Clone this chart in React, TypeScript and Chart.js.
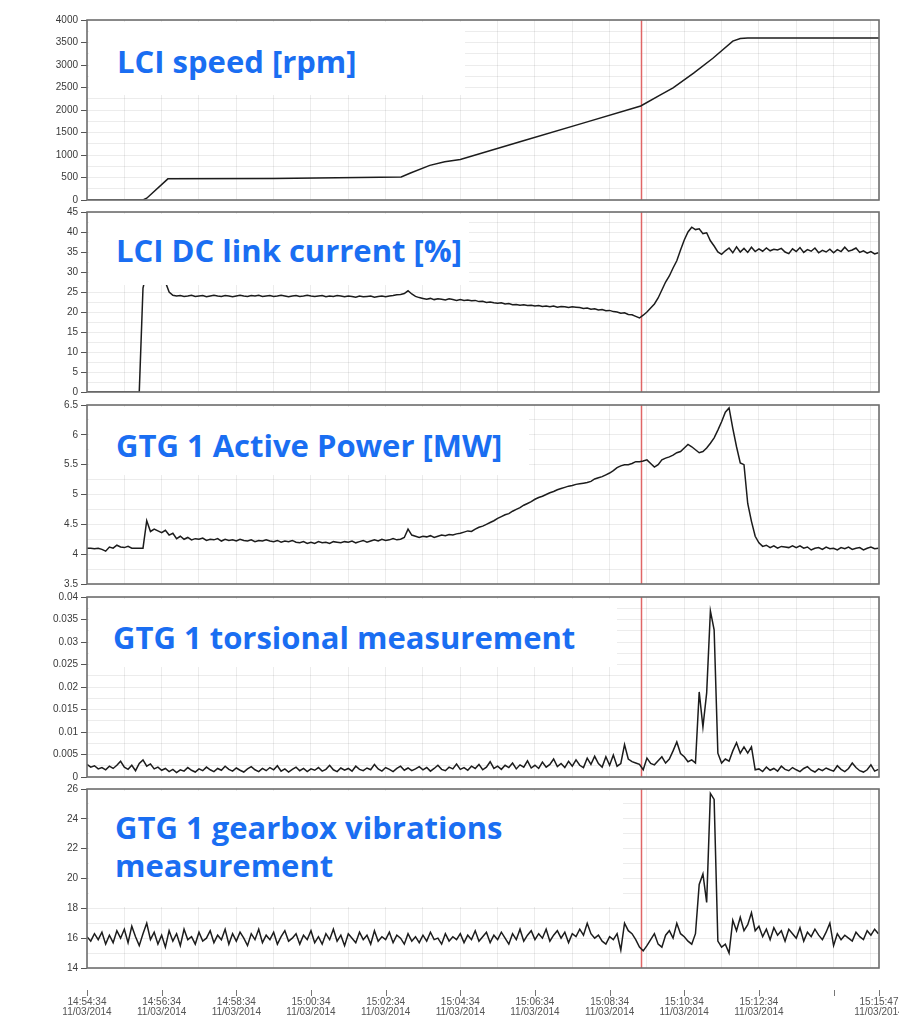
import React, { useEffect, useRef } from 'react';
import { Chart, registerables } from 'chart.js';

Chart.register(...registerables);

// ---------------- DATA ----------------
// time axis: seconds after 14:54:34 on 11/03/2014
const AXIS_END_S = 1273; // 15:15:47
const SAMPLE_STEP_S = 6; // spacing of the sampled (noisy) signals

const gridSeconds = [0, 60, 120, 180, 240, 300, 360, 420, 480, 540, 600, 660, 720, 780, 840, 900, 960, 1020, 1080, 1140, 1200, 1260];
const xTickSeconds = [0, 120, 240, 360, 480, 600, 720, 840, 960, 1080, 1200, 1273];
const xTickTimes = ['14:54:34', '14:56:34', '14:58:34', '15:00:34', '15:02:34', '15:04:34', '15:06:34', '15:08:34', '15:10:34', '15:12:34', '', '15:15:47'];
const xTickDates = ['11/03/2014', '11/03/2014', '11/03/2014', '11/03/2014', '11/03/2014', '11/03/2014', '11/03/2014', '11/03/2014', '11/03/2014', '11/03/2014', '', '11/03/2014'];

// red cursor
const markerSeconds = [890];

// LCI speed [rpm] (smooth, breakpoints)
const speedSeconds = [0, 90, 96, 130, 300, 505, 520, 551, 575, 600, 700, 800, 890, 921, 942, 975, 1006, 1038, 1050, 1062, 1273];
const speedRpm = [0, 0, 40, 470, 480, 510, 600, 770, 850, 900, 1310, 1720, 2090, 2330, 2490, 2820, 3150, 3530, 3590, 3600, 3600];

// LCI DC link current [%]
const dcLinkCurrent = [
  0, 0, 0, 0, 0, 0, 0, 0, 0, 0,
  0, 0, 0, 0, 0, 26, 30, 32, 33, 32,
  30, 27.5, 25, 24.2, 24, 24.1, 23.9, 24, 24.2, 23.9,
  24, 24.1, 23.8, 24, 24.2, 24, 23.9, 24.1, 24, 23.8,
  24, 24.2, 24, 23.9, 24.1, 24, 24.2, 23.9, 24, 24.1,
  23.9, 24, 24.2, 24, 23.8, 24, 24.1, 23.9, 24, 24.2,
  24, 23.9, 24, 24.1, 23.8, 24, 23.9, 24.1, 24, 23.8,
  24, 23.9, 23.7, 24, 23.8, 23.9, 24, 23.7, 23.9, 24,
  23.8, 24, 24.1, 24.3, 24.4, 24.6, 25.3, 24.5, 23.9, 23.6,
  23.4, 23.2, 23.4, 23.1, 23.3, 23.2, 23, 23.3, 23.1, 22.9,
  23.1, 22.9, 23, 22.8, 22.9, 22.6, 22.7, 22.4, 22.5, 22.3,
  22.2, 22.3, 22, 22.1, 21.8, 21.9, 21.7, 21.8, 21.6, 21.7,
  21.5, 21.6, 21.4, 21.5, 21.3, 21.5, 21.2, 21.4, 21.3, 21.1,
  21.3, 21.2, 21.1, 20.9, 21, 20.7, 20.8, 20.5, 20.6, 20.3,
  20.4, 20.1, 20, 19.7, 19.8, 19.4, 19.3, 18.9, 18.5, 19.2,
  20, 21, 22, 23.5, 25.5, 27.5, 29, 31, 32.8, 35.5,
  38, 40, 41.2, 40.6, 40.8, 39.6, 39.8, 37.8, 36.5, 35,
  34.4, 35.3, 36, 34.8, 36.3, 35, 35.9, 34.9, 36.2, 35.1,
  35.8, 35.2, 36, 35.3, 35.7, 35.5, 35.9, 35, 34.6, 35.8,
  35.1, 36.1, 34.9, 35.6, 35.2, 36, 34.8, 35.4, 35, 35.7,
  34.8, 35.6, 35.1, 36.2, 35.2, 35.5, 36, 34.9, 35.3, 34.7,
  35.1, 34.5, 34.8,
];

// GTG 1 Active Power [MW]
const activePower = [
  4.1, 4.1, 4.09, 4.1, 4.08, 4.05, 4.12, 4.1, 4.15, 4.12,
  4.11, 4.13, 4.1, 4.1, 4.1, 4.1, 4.56, 4.38, 4.42, 4.39,
  4.36, 4.4, 4.32, 4.35, 4.26, 4.3, 4.25, 4.28, 4.24, 4.26,
  4.25, 4.27, 4.23, 4.25, 4.24, 4.26, 4.22, 4.25, 4.23, 4.24,
  4.22, 4.25, 4.23, 4.22, 4.24, 4.21, 4.23, 4.22, 4.24, 4.22,
  4.21, 4.23, 4.2, 4.22, 4.21, 4.23, 4.2, 4.19, 4.21, 4.18,
  4.2, 4.18, 4.21, 4.19, 4.2, 4.18, 4.21, 4.2, 4.19, 4.21,
  4.2, 4.22, 4.19, 4.21, 4.23, 4.2, 4.22, 4.24, 4.22, 4.25,
  4.23, 4.24, 4.26, 4.24, 4.25, 4.28, 4.42, 4.32, 4.3, 4.28,
  4.3, 4.29, 4.31, 4.28, 4.3, 4.32, 4.31, 4.33, 4.32, 4.34,
  4.35, 4.37, 4.39, 4.38, 4.42, 4.45, 4.47, 4.5, 4.53, 4.56,
  4.6, 4.63, 4.66, 4.68, 4.72, 4.75, 4.78, 4.82, 4.85, 4.88,
  4.92, 4.95, 4.97, 5.0, 5.03, 5.05, 5.08, 5.1, 5.12, 5.14,
  5.15, 5.17, 5.18, 5.19, 5.2, 5.22, 5.26, 5.28, 5.3, 5.33,
  5.36, 5.4, 5.45, 5.48, 5.5, 5.5, 5.52, 5.55, 5.55, 5.56,
  5.58, 5.52, 5.46, 5.5, 5.58, 5.61, 5.63, 5.66, 5.7, 5.72,
  5.78, 5.84, 5.8, 5.75, 5.7, 5.72, 5.78, 5.86, 5.95, 6.08,
  6.22, 6.38, 6.45, 6.11, 5.8, 5.53, 5.5, 4.85, 4.55, 4.3,
  4.19, 4.13, 4.15, 4.11, 4.14, 4.1, 4.13, 4.12, 4.11, 4.14,
  4.11, 4.14, 4.1, 4.12, 4.07, 4.1, 4.11, 4.08, 4.12, 4.09,
  4.1, 4.07, 4.11, 4.09, 4.12, 4.08, 4.1, 4.11, 4.07, 4.1,
  4.12, 4.09, 4.1,
];

// GTG 1 torsional measurement
const torsional = [
  0.0028, 0.0022, 0.0025, 0.0018, 0.0021, 0.0016, 0.0024, 0.0019, 0.0026, 0.0035,
  0.0022, 0.0017, 0.0026, 0.0014, 0.0030, 0.0038, 0.0024, 0.0029, 0.0018, 0.0022,
  0.0015, 0.0019, 0.0012, 0.0017, 0.0010, 0.0016, 0.0013, 0.0021, 0.0015, 0.0011,
  0.0018, 0.0014, 0.0022, 0.0016, 0.0012, 0.0019, 0.0015, 0.0024, 0.0017, 0.0013,
  0.0020, 0.0015, 0.0011, 0.0018, 0.0023, 0.0016, 0.0012, 0.0019, 0.0014, 0.0021,
  0.0016, 0.0025, 0.0013, 0.0018, 0.0011, 0.0017, 0.0022, 0.0014, 0.0019, 0.0012,
  0.0018, 0.0015, 0.0021, 0.0013, 0.0017, 0.0026, 0.0016, 0.0012, 0.0020, 0.0015,
  0.0019, 0.0013, 0.0024, 0.0017, 0.0014, 0.0020, 0.0016, 0.0028, 0.0018, 0.0013,
  0.0021, 0.0017, 0.0012, 0.0019, 0.0024, 0.0015, 0.0020, 0.0014, 0.0018, 0.0023,
  0.0016, 0.0021, 0.0013, 0.0019, 0.0026, 0.0017, 0.0014, 0.0022, 0.0018, 0.0029,
  0.0017, 0.0021, 0.0015, 0.0024, 0.0019, 0.0028, 0.0016, 0.0022, 0.0034, 0.0019,
  0.0024, 0.0017, 0.0026, 0.0021, 0.0031, 0.0018, 0.0027, 0.0022, 0.0036, 0.0020,
  0.0026, 0.0019, 0.0033, 0.0022, 0.0028, 0.0040, 0.0023, 0.0030, 0.0021, 0.0035,
  0.0024, 0.0038, 0.0026, 0.0021, 0.0042, 0.0028, 0.0046, 0.0030, 0.0022, 0.0045,
  0.0026, 0.0049, 0.0024, 0.0030, 0.0072, 0.0040, 0.0034, 0.0031, 0.0028, 0.0016,
  0.0042, 0.0030, 0.0027, 0.0036, 0.0045, 0.0031, 0.0040, 0.0058, 0.0078, 0.0052,
  0.0045, 0.0034, 0.0038, 0.0031, 0.0189, 0.0111, 0.0187, 0.0369, 0.0327, 0.0053,
  0.0031, 0.0040, 0.0035, 0.0058, 0.0076, 0.0053, 0.0067, 0.0053, 0.0067, 0.0016,
  0.0018, 0.0012, 0.0022, 0.0015, 0.0019, 0.0013, 0.0024, 0.0017, 0.0014, 0.0021,
  0.0016, 0.0012, 0.0019, 0.0023, 0.0015, 0.0011, 0.0018, 0.0014, 0.0020, 0.0016,
  0.0013, 0.0025, 0.0017, 0.0012, 0.0019, 0.0031, 0.0021, 0.0014, 0.0011, 0.0016,
  0.0027, 0.0013, 0.0017,
];

// GTG 1 gearbox vibrations measurement
const gearboxVibration = [
  16.1, 15.8, 16.3, 15.9, 16.4, 15.6, 16.2, 15.7, 16.5, 16.0,
  16.6, 15.7, 16.8, 16.1, 15.5, 16.3, 17.0, 15.9, 16.4, 15.6,
  16.2, 15.4, 16.5, 15.8, 16.3, 15.5, 16.6, 15.9, 16.1, 15.6,
  16.4, 15.8, 16.0, 16.5, 15.7, 16.2, 15.9, 16.6, 15.6, 16.3,
  15.8, 16.4, 16.0, 15.5, 16.3, 15.9, 16.6, 15.7, 16.2, 15.9,
  16.4, 15.6, 16.1, 16.5, 15.8, 16.0, 16.3, 15.6, 16.2, 15.9,
  16.5, 15.7, 16.1, 15.6, 16.3, 15.9, 16.6, 15.8, 16.2, 15.5,
  16.3, 16.0, 15.7, 16.4, 15.9, 16.2, 15.6, 16.5, 15.8, 16.1,
  15.9, 16.4, 15.7, 16.2, 16.0, 15.6, 16.3, 15.8, 16.1, 15.7,
  16.2, 15.8, 16.4, 15.9, 16.0, 15.6, 16.3, 15.8, 16.1, 15.9,
  16.3, 15.7, 16.2, 15.9, 16.5, 15.8, 16.1, 16.4, 15.7, 16.2,
  15.9, 16.4, 16.0, 15.6, 16.3, 15.9, 16.6, 15.8, 16.2, 16.5,
  15.9, 16.3, 16.0, 16.6, 15.8, 16.2, 16.5, 16.0, 16.4, 15.7,
  16.3, 16.1, 16.6, 16.2, 17.0, 16.3, 16.0, 16.2, 15.8, 15.6,
  16.1, 15.9, 16.3, 15.2, 17.0, 16.5, 16.3, 15.9, 15.4, 15.15,
  15.5, 15.9, 16.3, 15.6, 15.4, 16.2, 16.5, 16.0, 17.0, 16.3,
  16.1, 15.8, 15.6, 16.3, 19.6, 20.3, 18.4, 25.7, 25.3, 15.8,
  15.4, 15.6, 15.0, 17.2, 16.5, 17.4, 16.5, 16.9, 17.7, 16.5,
  16.8, 16.1, 16.6, 15.9, 16.7, 16.2, 16.5, 15.8, 16.6, 16.3,
  16.0, 16.7, 15.8, 16.4, 16.1, 16.6, 16.2, 15.9, 16.4, 17.0,
  15.5, 16.3, 15.9, 16.2, 16.0, 15.8, 16.4, 16.1, 15.9, 16.5,
  16.2, 16.6, 16.3,
];

// ---------------- LAYOUT / STYLE ----------------
const CANVAS_W = 940;
const PLOT_LEFT = 87;
const PLOT_RIGHT = 879;
const PAD = 8;
const X_AXIS_H = 47;
const BLUE = '#1a6ef2';
const LABEL_FONT = '"Open Sans", "DejaVu Sans", sans-serif';
const TICK_FONT = { family: '"Liberation Sans", Arial, sans-serif', size: 10, lineHeight: 1 };

type PanelCfg = {
  top: number;
  height: number;
  yMin: number;
  yMax: number;
  yStep: number;
  points: { x: number; y: number }[];
  box: { left: number; top: number; width: number; height: number };
  lines: { text: string; baseline: number; left: number }[];
};

const sampled = (vals: number[]) => vals.map((v, i) => ({ x: i * SAMPLE_STEP_S, y: v }));

const PANELS: PanelCfg[] = [
  {
    top: 20, height: 180, yMin: 0, yMax: 4000, yStep: 500,
    points: speedSeconds.map((t, i) => ({ x: t, y: speedRpm[i] })),
    box: { left: 89, top: 22, width: 376, height: 73 },
    lines: [{ text: 'LCI speed [rpm]', baseline: 74, left: 117 }],
  },
  {
    top: 212, height: 180, yMin: 0, yMax: 45, yStep: 5,
    points: sampled(dcLinkCurrent),
    box: { left: 89, top: 214, width: 380, height: 71 },
    lines: [{ text: 'LCI DC link current [%]', baseline: 263, left: 116 }],
  },
  {
    top: 405, height: 179, yMin: 3.5, yMax: 6.5, yStep: 0.5,
    points: sampled(activePower),
    box: { left: 89, top: 407, width: 440, height: 68 },
    lines: [{ text: 'GTG 1 Active Power [MW]', baseline: 458, left: 116 }],
  },
  {
    top: 597, height: 180, yMin: 0, yMax: 0.04, yStep: 0.005,
    points: sampled(torsional),
    box: { left: 89, top: 599, width: 528, height: 68 },
    lines: [{ text: 'GTG 1 torsional measurement', baseline: 650, left: 113 }],
  },
  {
    top: 789, height: 179, yMin: 14, yMax: 26, yStep: 2,
    points: sampled(gearboxVibration),
    box: { left: 89, top: 791, width: 534, height: 116 },
    lines: [
      { text: 'GTG 1 gearbox vibrations', baseline: 840, left: 115 },
      { text: 'measurement', baseline: 878, left: 115 },
    ],
  },
];

const isMajor = (v: number, min: number, step: number) => {
  const r = (v - min) / step;
  return Math.abs(r - Math.round(r)) < 1e-6;
};
const fmt = (v: number) => String(Number(v.toFixed(4)));

function PanelChart({ cfg, last }: { cfg: PanelCfg; last: boolean }) {
  const ref = useRef<HTMLCanvasElement | null>(null);
  const canvasH = PAD + cfg.height + (last ? X_AXIS_H : PAD);

  useEffect(() => {
    const canvas = ref.current;
    if (!canvas) return;

    const decor = {
      id: 'decor',
      beforeDatasetsDraw(chart: any) {
        const { ctx, chartArea } = chart;
        const xs = chart.scales.x;
        ctx.save();
        ctx.strokeStyle = '#e06666';
        ctx.lineWidth = 1.5;
        markerSeconds.forEach((t) => {
          const x = Math.round(xs.getPixelForValue(t)) + 0.5;
          ctx.beginPath();
          ctx.moveTo(x, chartArea.top);
          ctx.lineTo(x, chartArea.bottom);
          ctx.stroke();
        });
        ctx.restore();
      },
      afterDatasetsDraw(chart: any) {
        const { ctx, chartArea } = chart;
        ctx.save();
        ctx.strokeStyle = '#6e6e6e';
        ctx.lineWidth = 1.6;
        ctx.strokeRect(chartArea.left, chartArea.top, chartArea.right - chartArea.left, chartArea.bottom - chartArea.top);
        if (last) {
          const xs = chart.scales.x;
          ctx.strokeStyle = '#777';
          ctx.lineWidth = 1;
          xTickSeconds.forEach((t) => {
            const x = Math.round(xs.getPixelForValue(t)) + 0.5;
            ctx.beginPath();
            ctx.moveTo(x, chartArea.bottom + 22);
            ctx.lineTo(x, chartArea.bottom + 28);
            ctx.stroke();
          });
        }
        ctx.restore();
      },
    };

    const half = cfg.yStep / 2;
    const nY = Math.round((cfg.yMax - cfg.yMin) / half);

    const chart = new Chart(canvas, {
      type: 'line',
      data: {
        datasets: [
          {
            data: cfg.points,
            borderColor: '#1c1c1c',
            borderWidth: 1.5,
            pointRadius: 0,
            tension: 0,
            fill: false,
          },
        ],
      },
      options: {
        animation: false,
        responsive: false,
        maintainAspectRatio: false,
        devicePixelRatio: 1,
        parsing: false,
        normalized: true,
        layout: { padding: { top: PAD, bottom: last ? 0 : PAD, left: 0, right: CANVAS_W - PLOT_RIGHT } },
        plugins: { legend: { display: false }, tooltip: { enabled: false }, title: { display: false } },
        scales: {
          x: {
            type: 'linear',
            min: 0,
            max: AXIS_END_S,
            afterBuildTicks: (scale: any) => {
              scale.ticks = [...gridSeconds, AXIS_END_S].map((v) => ({ value: v }));
            },
            afterFit: (scale: any) => {
              scale.height = last ? X_AXIS_H : 0;
            },
            ticks: {
              display: last,
              autoSkip: false,
              maxRotation: 0,
              minRotation: 0,
              padding: 29,
              color: '#555',
              font: TICK_FONT,
              callback: (value: any) => {
                const i = xTickSeconds.indexOf(Number(value));
                if (i < 0 || !xTickTimes[i]) return '';
                return [xTickTimes[i], xTickDates[i]];
              },
            },
            grid: { color: 'rgba(0,0,0,0.075)', lineWidth: 1, drawTicks: false },
            border: { display: false },
          },
          y: {
            type: 'linear',
            min: cfg.yMin,
            max: cfg.yMax,
            afterBuildTicks: (scale: any) => {
              const t = [];
              for (let k = 0; k <= nY; k++) t.push({ value: Number((cfg.yMin + k * half).toFixed(6)) });
              scale.ticks = t;
            },
            afterFit: (scale: any) => {
              scale.width = PLOT_LEFT;
            },
            ticks: {
              autoSkip: false,
              padding: 3,
              color: '#3a3a3a',
              font: TICK_FONT,
              callback: (value: any) => (isMajor(Number(value), cfg.yMin, cfg.yStep) ? fmt(Number(value)) : ''),
            },
            grid: {
              color: 'rgba(0,0,0,0.075)',
              lineWidth: 1,
              drawTicks: true,
              tickLength: 6,
              tickColor: (ctx: any) =>
                ctx.tick && isMajor(ctx.tick.value, cfg.yMin, cfg.yStep) ? '#555' : 'rgba(0,0,0,0)',
            },
            border: { display: false },
          },
        },
      },
      plugins: [decor],
    } as any);

    return () => chart.destroy();
  }, []);

  return (
    <canvas
      ref={ref}
      width={CANVAS_W}
      height={canvasH}
      style={{ position: 'absolute', left: 0, top: cfg.top - PAD, width: CANVAS_W, height: canvasH }}
    />
  );
}

const FONT_SIZE = 31;

export default function App() {
  return (
    <div
      style={{
        position: 'absolute',
        left: 0,
        top: 0,
        width: 899,
        height: 1015,
        overflow: 'hidden',
        background: '#ffffff',
      }}
    >
      {PANELS.map((p, i) => (
        <PanelChart key={i} cfg={p} last={i === PANELS.length - 1} />
      ))}
      {PANELS.map((p, i) => (
        <div
          key={'b' + i}
          style={{
            position: 'absolute',
            left: p.box.left,
            top: p.box.top,
            width: p.box.width,
            height: p.box.height,
            background: '#ffffff',
          }}
        />
      ))}
      {PANELS.map((p, i) =>
        p.lines.map((l, j) => (
          <div
            key={'t' + i + '-' + j}
            style={{
              position: 'absolute',
              left: l.left,
              top: l.baseline - Math.round(FONT_SIZE * 0.888),
              fontFamily: LABEL_FONT,
              fontWeight: 700,
              fontSize: FONT_SIZE,
              lineHeight: FONT_SIZE + 'px',
              color: BLUE,
              whiteSpace: 'nowrap',
            }}
          >
            {l.text}
          </div>
        ))
      )}
    </div>
  );
}
